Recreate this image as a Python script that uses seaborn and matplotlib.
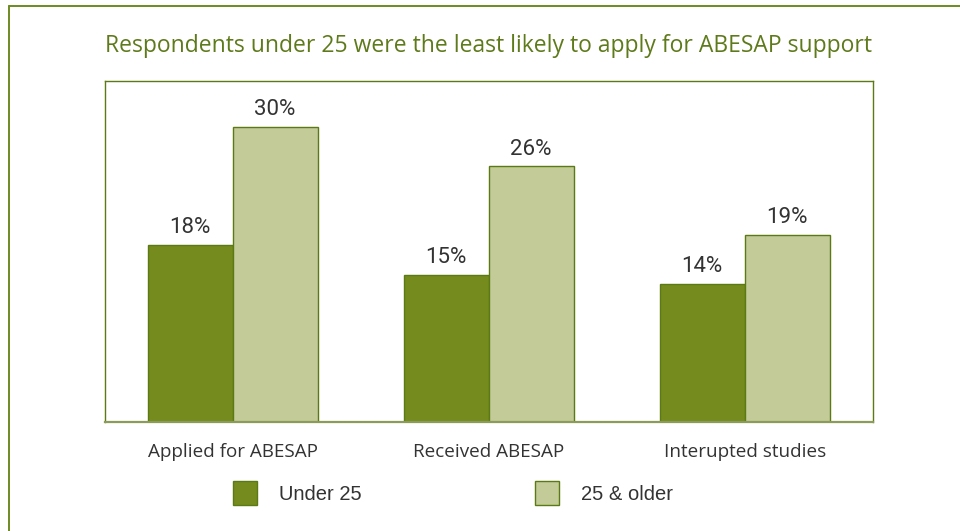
import pandas as pd
import numpy as np
import matplotlib.pyplot as plt
import seaborn as sns
from matplotlib.lines import Line2D
from matplotlib.patches import Patch

# Chart data
categories = ['Applied for ABESAP', 'Received ABESAP', 'Interupted studies']
groups = ['Under 25', '25 & older']
under_25 = [18, 15, 14]
older_25 = [30, 26, 19]

df = pd.DataFrame({
    'category': categories * 2,
    'group': [groups[0]] * 3 + [groups[1]] * 3,
    'value': under_25 + older_25,
})

dark_green = '#758B1E'
light_green = '#C3CB99'
edge_green = '#5C7A14'
title_green = '#5E7A1A'
text_grey = '#333333'

sns.set_theme(style='white')
plt.rcParams['font.family'] = ['Open Sans', 'DejaVu Sans']

fig = plt.figure(figsize=(9.6, 5.31), dpi=100)
ax = fig.add_axes([0.109, 0.2053, 0.8, 0.6422])

sns.barplot(data=df, x='category', y='value', hue='group', order=categories,
            hue_order=groups, palette=[dark_green, light_green], width=0.664,
            edgecolor=edge_green, linewidth=1.0, saturation=1, legend=False, ax=ax)

for cont in ax.containers:
    ax.bar_label(cont, fmt='%d%%', padding=5, fontsize=16, color=text_grey,
                 family=['Roboto', 'DejaVu Sans'])

ax.set_ylim(0, 34.7)
ax.set_xlim(-0.5, 2.5)
ax.set_yticks([])
ax.set_xlabel('')
ax.set_ylabel('')
ax.tick_params(axis='x', length=0, pad=15, labelsize=13.6, labelcolor=text_grey)
for side in ['top', 'left', 'right']:
    ax.spines[side].set_color(edge_green)
    ax.spines[side].set_linewidth(1.0)
ax.spines['bottom'].set_color('#8A9B5A')
ax.spines['bottom'].set_linewidth(1.6)

# title
fig.text(0.509, 0.913, 'Respondents under 25 were the least likely to apply for ABESAP support',
         ha='center', va='center', fontsize=16.5, color=title_green)

# outer frame (open at right and bottom)
fy = 1 - 6 / 531
fx = 9 / 960
fig.add_artist(Line2D([fx, 1.0], [fy, fy], color='#6E8A22', lw=1.4, transform=fig.transFigure))
fig.add_artist(Line2D([fx, fx], [0.0, fy], color='#6E8A22', lw=1.4, transform=fig.transFigure))

# legend
handles = [Patch(facecolor=dark_green, edgecolor=edge_green, label=groups[0]),
           Patch(facecolor=light_green, edgecolor=edge_green, label=groups[1])]
fig.legend(handles=handles, loc='center', bbox_to_anchor=(0.472, 0.0716), ncol=2,
           frameon=False, borderpad=0, handlelength=1.2, handleheight=1.4,
           handletextpad=1.1, columnspacing=8.6,
           prop={'family': ['Liberation Sans', 'DejaVu Sans'], 'size': 14.5},
           labelcolor=text_grey)

fig.savefig('out.png', dpi=100)
